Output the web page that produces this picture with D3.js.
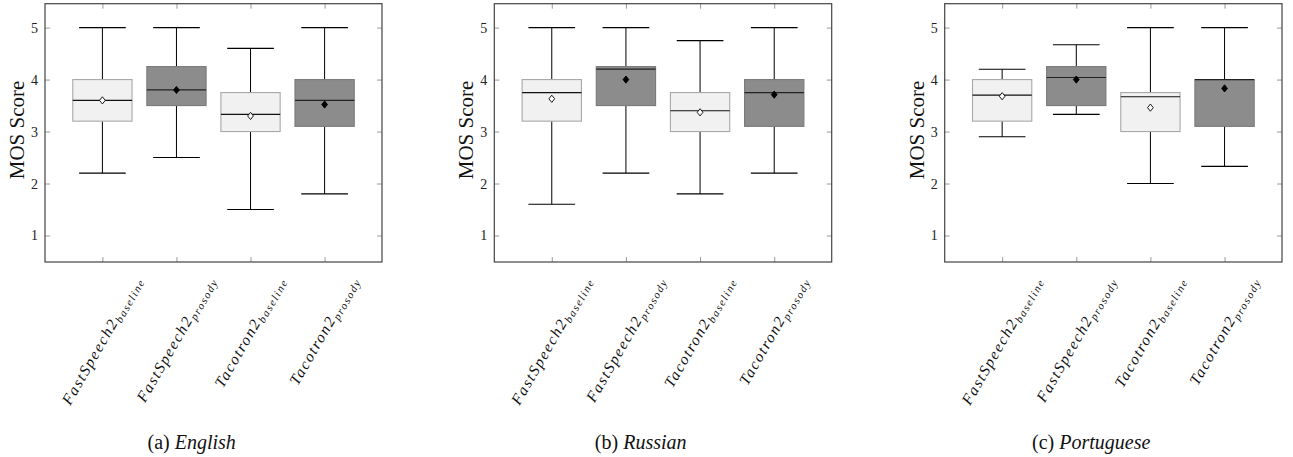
<!DOCTYPE html>
<html>
<head>
<meta charset="utf-8">
<script src="https://cdn.jsdelivr.net/npm/d3@7"></script>
<style>
  html, body { margin: 0; padding: 0; background: #fff; }
  svg { display: block; }
</style>
</head>
<body>
<svg id="chart" width="1293" height="457"></svg>
<script>
// ---------- DATA ----------
const categories = ["FastSpeech2", "FastSpeech2", "Tacotron2", "Tacotron2"];
const subscripts = ["baseline", "prosody", "baseline", "prosody"];
const isProsody = [false, true, false, true];
const languages = ["English", "Russian", "Portuguese"];
const letters = ["(a)", "(b)", "(c)"];
const yTicks = [1, 2, 3, 4, 5];

const englishMin    = [2.2, 2.5, 1.5, 1.8];
const englishQ1     = [3.2, 3.5, 3.0, 3.1];
const englishMedian = [3.6, 3.8, 3.33, 3.6];
const englishQ3     = [4.0, 4.25, 3.75, 4.0];
const englishMax    = [5.0, 5.0, 4.6, 5.0];
const englishMean   = [3.6, 3.8, 3.3, 3.52];

const russianMin    = [1.6, 2.2, 1.8, 2.2];
const russianQ1     = [3.2, 3.5, 3.0, 3.1];
const russianMedian = [3.75, 4.2, 3.4, 3.75];
const russianQ3     = [4.0, 4.25, 3.75, 4.0];
const russianMax    = [5.0, 5.0, 4.75, 5.0];
const russianMean   = [3.63, 4.0, 3.37, 3.71];

const portugueseMin    = [2.9, 3.33, 2.0, 2.33];
const portugueseQ1     = [3.2, 3.5, 3.0, 3.1];
const portugueseMedian = [3.7, 4.04, 3.67, 4.0];
const portugueseQ3     = [4.0, 4.25, 3.75, 4.0];
const portugueseMax    = [4.2, 4.67, 5.0, 5.0];
const portugueseMean   = [3.68, 4.0, 3.46, 3.83];

const stats = [
  [englishMin, englishQ1, englishMedian, englishQ3, englishMax, englishMean],
  [russianMin, russianQ1, russianMedian, russianQ3, russianMax, russianMean],
  [portugueseMin, portugueseQ1, portugueseMedian, portugueseQ3, portugueseMax, portugueseMean]
];

// ---------- LAYOUT ----------
const svg = d3.select("#chart");
const frames = [[45, 382], [494.3, 831.7], [944.7, 1282]];
const captionX = [191.7, 640.7, 1091.2];
const plotTop = 3.7, plotBottom = 262;
const serifFam = '"Liberation Serif", "Times New Roman", serif';
const angle = 60;

languages.forEach((lang, p) => {
  const [L, R] = frames[p];
  const [mins, q1s, meds, q3s, maxs, means] = stats[p];
  const x = d3.scaleLinear().domain([0.225, 4.775]).range([L, R]);
  const y = d3.scaleLinear().domain([0.49, 5.46]).range([plotBottom, plotTop]);
  const pos = categories.map((c, i) => i + 1);
  const g = svg.append("g");

  // axes (ticks inside, mirrored)
  const tickCol = "#9a9a9a";
  const left = g.append("g").attr("transform", `translate(${L},0)`)
    .call(d3.axisLeft(y).tickValues(yTicks).tickSize(-5).tickPadding(7).tickFormat(d3.format("d")));
  const right = g.append("g").attr("transform", `translate(${R},0)`)
    .call(d3.axisRight(y).tickValues(yTicks).tickSize(-5).tickFormat(""));
  const topAx = g.append("g").attr("transform", `translate(0,${plotTop})`)
    .call(d3.axisTop(x).tickValues(pos).tickSize(-5).tickFormat(""));
  const botAx = g.append("g").attr("transform", `translate(0,${plotBottom})`)
    .call(d3.axisBottom(x).tickValues(pos).tickSize(-5).tickFormat(""));
  [left, right, topAx, botAx].forEach(a => {
    a.select(".domain").remove();
    a.selectAll(".tick line").attr("stroke", tickCol).attr("stroke-width", 1);
  });
  left.attr("font-family", null).attr("font-size", null);
  left.selectAll(".tick text")
    .style("font-family", serifFam).style("font-size", "14px").attr("fill", "#222");

  // frame
  g.append("rect").attr("x", L).attr("y", plotTop).attr("width", R - L).attr("height", plotBottom - plotTop)
    .attr("fill", "none").attr("stroke", "#444").attr("stroke-width", 1.2);

  const boxHalf = x(1.4) - x(1);
  const capHalf = x(1.315) - x(1);

  pos.forEach((c, i) => {
    const cx = x(c);
    const dark = isProsody[i];
    // whiskers
    g.append("line").attr("x1", cx).attr("x2", cx).attr("y1", y(maxs[i])).attr("y2", y(q3s[i]))
      .attr("stroke", "#000").attr("stroke-width", 1);
    g.append("line").attr("x1", cx).attr("x2", cx).attr("y1", y(q1s[i])).attr("y2", y(mins[i]))
      .attr("stroke", "#000").attr("stroke-width", 1);
    [mins[i], maxs[i]].forEach(v => {
      g.append("line").attr("x1", cx - capHalf).attr("x2", cx + capHalf)
        .attr("y1", y(v)).attr("y2", y(v)).attr("stroke", "#000").attr("stroke-width", 1.1);
    });
    // box
    g.append("rect").attr("x", cx - boxHalf).attr("y", y(q3s[i]))
      .attr("width", 2 * boxHalf).attr("height", y(q1s[i]) - y(q3s[i]))
      .attr("fill", dark ? "#8c8c8c" : "#f1f1f1")
      .attr("stroke", dark ? "#7a7a7a" : "#a8a8a8").attr("stroke-width", 1.1);
    // median
    g.append("line").attr("x1", cx - boxHalf).attr("x2", cx + boxHalf)
      .attr("y1", y(meds[i])).attr("y2", y(meds[i]))
      .attr("stroke", dark ? "#222" : "#111").attr("stroke-width", 1.2);
    // mean diamond
    const my = y(means[i]), dr = 3.6;
    g.append("path")
      .attr("d", `M${cx},${my - dr}L${cx + dr * 0.8},${my}L${cx},${my + dr}L${cx - dr * 0.8},${my}Z`)
      .attr("fill", dark ? "#000" : "#fff").attr("stroke", "#000").attr("stroke-width", 0.9);

    // rotated category label
    const t = g.append("text").style("font-family", serifFam).style("font-style", "italic")
      .attr("fill", "#111").attr("x", 0).attr("y", 0);
    t.append("tspan").style("font-size", "15.5px").attr("letter-spacing", 1.6).text(categories[i]);
    t.append("tspan").style("font-size", "11px").attr("letter-spacing", 1.5).attr("dy", 3)
      .text(subscripts[i]);
    const bb = t.node().getBBox();
    const ccx = bb.x + bb.width / 2, ccy = bb.y + bb.height / 2;
    const rad = angle * Math.PI / 180;
    const rotH = bb.width * Math.sin(rad) + bb.height * Math.cos(rad);
    t.attr("transform", `translate(${cx},${273 + rotH / 2}) rotate(${-angle}) translate(${-ccx},${-ccy})`);
  });

  // y label
  g.append("text")
    .attr("transform", `translate(${L - 28},${(y(3.0) + y(3.1)) / 2 + 1}) rotate(-90)`)
    .attr("text-anchor", "middle").attr("dominant-baseline", "central")
    .style("font-family", serifFam).style("font-size", "21px").attr("fill", "#111")
    .text("MOS Score");

  // caption
  const cap = g.append("text").attr("x", captionX[p]).attr("y", 449)
    .attr("text-anchor", "middle").style("font-family", serifFam).style("font-size", "20px").attr("fill", "#111");
  cap.append("tspan").text(letters[p] + " ");
  cap.append("tspan").style("font-style", "italic").text(lang);
});
</script>
</body>
</html>
